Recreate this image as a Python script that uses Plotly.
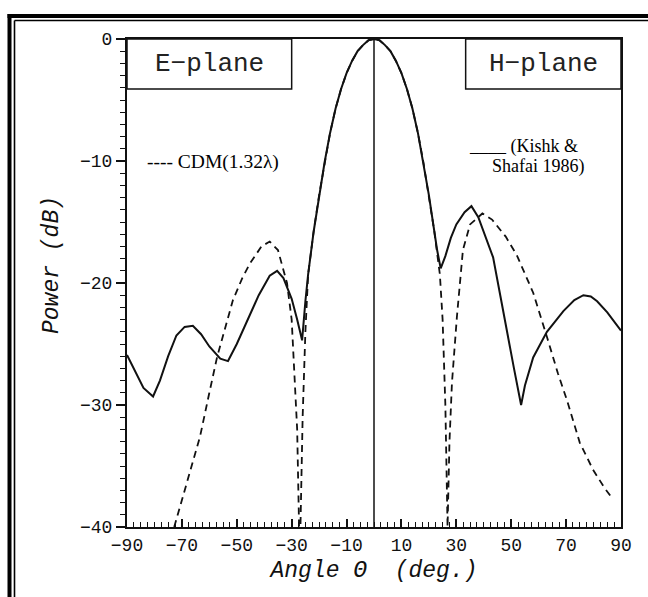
import plotly.graph_objects as go

# ---- data ----
solid_x = [-90, -87, -84, -80.5, -78, -75, -72, -69, -66, -63, -60, -56, -53.2, -50, -46, -42, -38, -35.3, -33, -30, -28, -26.2,
           -25, -24, -22, -20, -18, -16, -14, -12, -10, -8, -6, -4, -2, 0,
           2, 4, 6, 8, 10, 12, 14, 16, 18, 20, 22, 23, 24.3,
           26, 28, 30, 33, 35.5, 38, 41, 43.4, 46, 48.5, 51, 53.6, 55, 58, 63, 69, 73, 76.3, 79, 81.3, 85, 90]
solid_y = [-25.9, -27.3, -28.6, -29.3, -28.0, -26.0, -24.3, -23.6, -23.5, -24.2, -25.2, -26.2, -26.4, -25.0, -23.0, -21.0, -19.4, -19.0, -19.6, -21.3, -23.0, -24.7,
           -21.5, -19.3, -15.8, -12.8, -10.1, -7.7, -5.7, -4.1, -2.8, -1.8, -1.0, -0.5, -0.1, 0.0,
           -0.1, -0.5, -1.0, -1.8, -2.8, -4.1, -5.7, -7.7, -10.1, -12.8, -15.8, -17.3, -18.8,
           -17.8, -16.3, -15.2, -14.2, -13.7, -14.6, -16.5, -17.9, -21.0, -24.1, -27.0, -30.0, -28.4, -26.1, -24.0, -22.3, -21.4, -21.0, -21.1, -21.5, -22.4, -23.9]

dash_x = [-72.8, -70, -66.5, -63.4, -60, -57.2, -54, -51.4, -48, -45.2, -41, -38, -35, -31.7, -30, -29, -28, -27.3,
          -26.8, -26, -25, -24, -22, -20, -18, -16, -14, -12, -10, -8, -6, -4, -2, 0,
          2, 4, 6, 8, 10, 12, 14, 16, 18, 20, 22, 24, 25, 26, 26.8,
          27.5, 28.4, 30.2, 32.4, 35, 39.5, 43, 48, 52, 58, 63, 67, 70.3, 75, 79.8, 84, 87]
dash_y = [-40.0, -37.8, -35.0, -32.6, -29.0, -26.1, -23.5, -21.4, -19.6, -18.4, -17.0, -16.6, -17.3, -20.0, -23.0, -27.0, -32.0, -40.0,
          -40.0, -31.0, -24.0, -19.3, -15.8, -12.8, -10.1, -7.7, -5.7, -4.1, -2.8, -1.8, -1.0, -0.5, -0.1, 0.0,
          -0.1, -0.5, -1.0, -1.8, -2.8, -4.1, -5.7, -7.7, -10.1, -12.8, -15.8, -19.3, -23.0, -30.0, -40.0,
          -33.0, -28.2, -22.8, -17.3, -15.2, -14.3, -14.8, -16.2, -17.7, -20.8, -24.4, -27.4, -29.6, -33.1, -35.3, -36.8, -37.7]

x_ticks = [-90, -70, -50, -30, -10, 10, 30, 50, 70, 90]
y_ticks = [0, -10, -20, -30, -40]
x_tick_text = ["\u221290", "\u221270", "\u221250", "\u221230", "\u221210", "10", "30", "50", "70", "90"]
y_tick_text = ["0", "\u221210", "\u221220", "\u221230", "\u221240"]

W, H = 648, 597
L, R, T, B = 127, 621, 39, 527  # plot area in page pixels


def px(x):  # page x pixel -> paper
    return (x - L) / (R - L)


def py(y):  # page y pixel -> paper
    return (B - y) / (B - T)


fig = go.Figure()
fig.add_trace(go.Scatter(x=solid_x, y=solid_y, mode="lines",
                         line=dict(color="#111", width=2), showlegend=False))
fig.add_trace(go.Scatter(x=dash_x, y=dash_y, mode="lines",
                         line=dict(color="#111", width=1.8, dash="7px,5px"), showlegend=False))

tickfont = dict(family="Liberation Mono", size=18, color="#111")
fig.update_xaxes(range=[-90, 90], tickvals=x_ticks, ticktext=x_tick_text, tickfont=tickfont,
                 automargin=False,
                 showgrid=False, zeroline=False, showline=True, linecolor="#111", linewidth=2,
                 mirror=True, ticks="inside", ticklen=8, tickwidth=1.5, tickcolor="#111",
                 minor=dict(dtick=2.5, tick0=-90, ticks="inside", ticklen=5, tickwidth=1.2, tickcolor="#111"),
                 title=dict(text="Angle \u0398  (deg.)",
                            font=dict(family="Liberation Mono", size=23, color="#111", style="italic"),
                            standoff=6))
fig.update_yaxes(range=[-40, 0], tickvals=y_ticks, ticktext=y_tick_text, tickfont=tickfont,
                 automargin=False,
                 showgrid=False, zeroline=False, showline=True, linecolor="#111", linewidth=2,
                 mirror=True, ticks="outside", ticklen=9, tickwidth=1.5, tickcolor="#111",
                 minor=dict(dtick=1, ticks="outside", ticklen=5, tickwidth=1.2, tickcolor="#111"))

shapes = []
# vertical line at 0 deg
shapes.append(dict(type="line", xref="x", yref="y", x0=0, x1=0, y0=-40, y1=0,
                   line=dict(color="#111", width=1.5)))
# E-plane and H-plane boxes
shapes.append(dict(type="rect", xref="x", yref="y", x0=-90, x1=-30, y0=-4.1, y1=0,
                   line=dict(color="#111", width=1.5), fillcolor="white", layer="below"))
shapes.append(dict(type="rect", xref="x", yref="y", x0=33.4, x1=90, y0=-4.1, y1=0,
                   line=dict(color="#111", width=1.5), fillcolor="white", layer="below"))
# outer double frame (page pixel positions)
shapes.append(dict(type="line", xref="paper", yref="paper", x0=px(9.5), x1=px(9.5), y0=py(14), y1=py(H),
                   line=dict(color="#000", width=4)))
shapes.append(dict(type="line", xref="paper", yref="paper", x0=px(7.5), x1=px(W), y0=py(16), y1=py(16),
                   line=dict(color="#000", width=4)))
shapes.append(dict(type="line", xref="paper", yref="paper", x0=px(14.5), x1=px(14.5), y0=py(20.5), y1=py(H),
                   line=dict(color="#000", width=1.6)))
shapes.append(dict(type="line", xref="paper", yref="paper", x0=px(14.5), x1=px(W), y0=py(20.5), y1=py(20.5),
                   line=dict(color="#000", width=1.6)))

annotations = [
    dict(text="E\u2212plane", xref="x", yref="y", x=-60, y=-2.05, showarrow=False,
         font=dict(family="Liberation Mono", size=26, color="#222")),
    dict(text="H\u2212plane", xref="x", yref="y", x=61.7, y=-2.05, showarrow=False,
         font=dict(family="Liberation Mono", size=26, color="#222")),
    dict(text="---- CDM(1.32\u03bb)", xref="paper", yref="paper", x=px(145), y=py(162),
         xanchor="left", yanchor="middle", showarrow=False,
         font=dict(family="Liberation Serif", size=19.5, color="#000")),
    dict(text="____ (Kishk &", xref="paper", yref="paper", x=px(467), y=py(146),
         xanchor="left", yanchor="middle", showarrow=False,
         font=dict(family="Liberation Serif", size=18, color="#000")),
    dict(text="Shafai 1986)", xref="paper", yref="paper", x=px(490), y=py(166),
         xanchor="left", yanchor="middle", showarrow=False,
         font=dict(family="Liberation Serif", size=18, color="#000")),
    dict(text="Power (dB)", xref="paper", yref="paper", x=px(52), y=py(265),
         xanchor="center", yanchor="middle", textangle=-90, showarrow=False,
         font=dict(family="Liberation Mono", size=23, color="#111", style="italic")),
]

fig.update_layout(width=W, height=H, margin=dict(l=L, r=W - R, t=T, b=H - B, autoexpand=False),
                  plot_bgcolor="white", paper_bgcolor="white",
                  shapes=shapes, annotations=annotations, showlegend=False)

fig.write_html("out.html", config={"displayModeBar": False},
               post_script="document.documentElement.style.overflow='hidden';"
                           "document.body.style.margin='0';document.body.style.overflow='hidden';")
